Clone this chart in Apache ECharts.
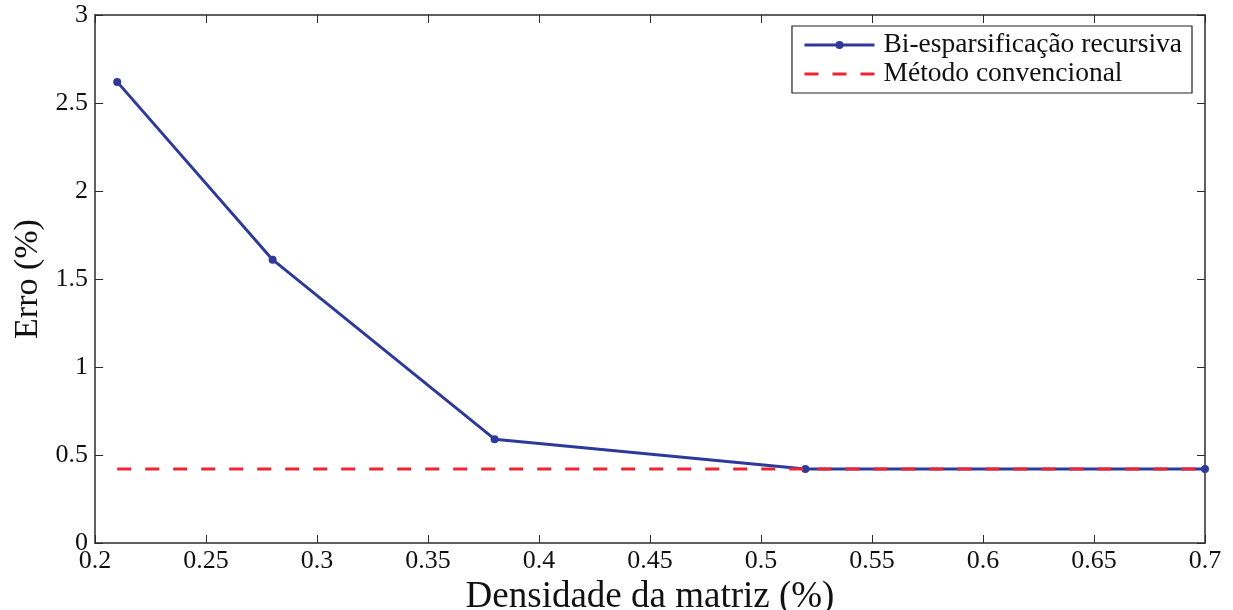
<!DOCTYPE html>
<html>
<head>
<meta charset="utf-8">
<script src="https://cdn.jsdelivr.net/npm/echarts@6/dist/echarts.min.js"></script>
<style>
  html, body { margin: 0; padding: 0; background: #fff; }
  #chart { width: 1233px; height: 610px; }
</style>
</head>
<body>
<div id="chart"></div>
<script>
// Matrix density (%) vs. error (%)
const densidade = [0.21, 0.28, 0.38, 0.52, 0.70];
const erroBiEsparsa = [2.62, 1.61, 0.59, 0.42, 0.42];
const convDensidade = [0.21, 0.70];
const erroConvencional = [0.42, 0.42];

const serieNomes = ['Bi-esparsificação recursiva', 'Método convencional'];
const fonte = 'Liberation Serif';
const eixoCor = '#2b2b2b';

const pares = (xs, ys) => xs.map((x, i) => [x, ys[i]]);

const eixoX = (mostrar) => ({
  type: 'value', min: 0.2, max: 0.7, interval: 0.05,
  position: mostrar ? 'bottom' : 'top',
  name: mostrar ? 'Densidade da matriz (%)' : '',
  nameLocation: 'middle', nameGap: 31,
  nameTextStyle: { fontFamily: fonte, fontSize: 37, color: '#111' },
  axisLine: { show: true, onZero: false, lineStyle: { color: eixoCor, width: 1.5 } },
  axisTick: { show: true, inside: true, length: 8, lineStyle: { color: eixoCor } },
  axisLabel: { show: mostrar, fontFamily: fonte, fontSize: 26, color: '#111', margin: 5,
               formatter: v => String(+v.toFixed(2)) },
  splitLine: { show: false }
});
const eixoY = (mostrar) => ({
  type: 'value', min: 0, max: 3, interval: 0.5,
  position: mostrar ? 'left' : 'right',
  name: mostrar ? 'Erro (%)' : '',
  nameLocation: 'middle', nameGap: 50, nameRotate: 90,
  nameTextStyle: { fontFamily: fonte, fontSize: 34, color: '#111' },
  axisLine: { show: true, onZero: false, lineStyle: { color: eixoCor, width: 1.5 } },
  axisTick: { show: true, inside: true, length: 8, lineStyle: { color: eixoCor } },
  axisLabel: { show: mostrar, fontFamily: fonte, fontSize: 26, color: '#111', margin: 7,
               formatter: v => String(+v.toFixed(1)) },
  splitLine: { show: false }
});

const chart = echarts.init(document.getElementById('chart'));
chart.setOption({
  animation: false,
  backgroundColor: '#fff',
  grid: { left: 95, right: 28, top: 15, bottom: 67, containLabel: false, outerBoundsMode: 'none' },
  xAxis: [eixoX(true), eixoX(false)],
  yAxis: [eixoY(true), eixoY(false)],
  legend: {
    right: 41, top: 26,
    orient: 'vertical',
    backgroundColor: '#fff',
    borderColor: '#222', borderWidth: 1.2,
    padding: [5, 10, 5, 11],
    itemGap: 1, itemWidth: 70, itemHeight: 10,
    lineStyle: { width: 3 },
    textStyle: { fontFamily: fonte, fontSize: 27.5, color: '#111', padding: [0, 0, 0, 4] },
    data: [
      { name: serieNomes[0] },
      { name: serieNomes[1], itemStyle: { opacity: 0 } }
    ]
  },
  series: [
    {
      name: serieNomes[0], type: 'line',
      data: pares(densidade, erroBiEsparsa),
      symbol: 'circle', symbolSize: 8,
      lineStyle: { color: '#2e3a9a', width: 3 },
      itemStyle: { color: '#2e3a9a' },
      z: 2
    },
    {
      name: serieNomes[1], type: 'line',
      data: pares(convDensidade, erroConvencional),
      symbol: 'none',
      lineStyle: { color: '#ee2433', width: 3, type: [14, 14] },
      itemStyle: { color: '#ee2433' },
      z: 3
    }
  ]
});
</script>
</body>
</html>
